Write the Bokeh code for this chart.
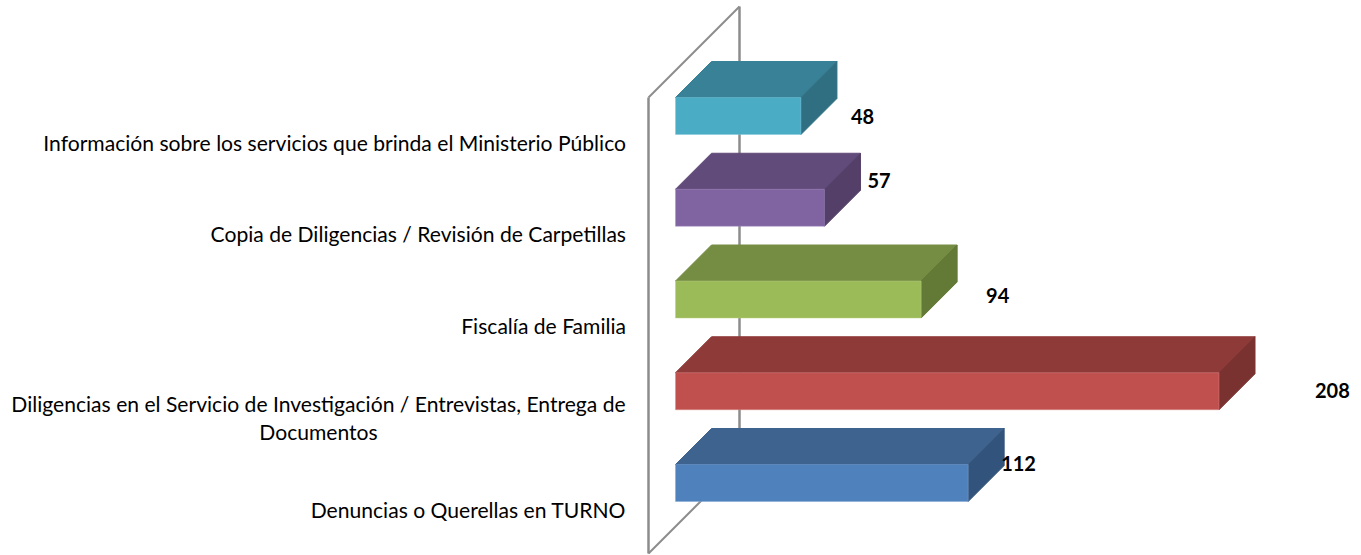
from bokeh.plotting import figure
from bokeh.embed import file_html
from bokeh.resources import INLINE
from bokeh.core.properties import value as fixed

# Data, listed from the bottom row upward
categories = [
    "Denuncias o Querellas en TURNO",
    "Diligencias en el Servicio de Investigación / Entrevistas, Entrega de\nDocumentos",
    "Fiscalía de Familia",
    "Copia de Diligencias / Revisión de Carpetillas",
    "Información sobre los servicios que brinda el Ministerio Público",
]
values = [112, 208, 94, 57, 48]

# Styles
front_colors = ["#4f81bd", "#c0504d", "#9bbb59", "#8064a2", "#4bacc6"]
top_colors = ["#3e638f", "#8e3a38", "#758d42", "#614b7a", "#388197"]
side_colors = ["#32537b", "#7a3230", "#637a37", "#533f68", "#2f6f81"]
edge_colors = ["#7ea3d3", "#d98886", "#b5cf82", "#a48dc0", "#7cc6da"]

PX_X = 2.613    # pixels per value unit
PX_Y = 91.75    # pixels per category step
W, H = 1361, 555
X0, Y0 = 675.0, 482.5   # frame pixel of value 0 and of the first row

DEPTH_X = 36 / PX_X
DEPTH_Y = 36 / PX_Y
HALF = 18.5 / PX_Y

p = figure(width=W, height=H, output_backend="svg", toolbar_location=None,
           x_range=(-X0 / PX_X, (W - X0) / PX_X),
           y_range=((Y0 - H) / PX_Y, Y0 / PX_Y),
           min_border=0, outline_line_color=None)
p.axis.visible = False
p.grid.visible = False

# Wall of the 3D plot
WALL_L, WALL_R = -27 / PX_X, 64 / PX_X
WALL_TOP_FRONT, WALL_TOP_BACK = 385.5 / PX_Y, 476.5 / PX_Y
WALL_BOTTOM_FRONT, WALL_BOTTOM_BACK = -70.5 / PX_Y, 20.5 / PX_Y
p.line([WALL_L, WALL_L], [WALL_BOTTOM_FRONT, WALL_TOP_FRONT], line_color="#8c8c8c", line_width=2.5)
p.line([WALL_L, WALL_R], [WALL_TOP_FRONT, WALL_TOP_BACK], line_color="#8c8c8c", line_width=2)
p.line([WALL_R, WALL_R], [WALL_BOTTOM_BACK, WALL_TOP_BACK], line_color="#8c8c8c", line_width=2.5)
p.line([WALL_L, WALL_R], [WALL_BOTTOM_FRONT, WALL_BOTTOM_BACK], line_color="#8c8c8c", line_width=2)

# Bars
for i, v in enumerate(values):
    top, bot = i + HALF, i - HALF
    p.patch([0, v, v + DEPTH_X, DEPTH_X], [top, top, top + DEPTH_Y, top + DEPTH_Y],
            fill_color=top_colors[i], line_color=top_colors[i], line_width=1)
    p.patch([v, v + DEPTH_X, v + DEPTH_X, v], [bot, bot + DEPTH_Y, top + DEPTH_Y, top],
            fill_color=side_colors[i], line_color=side_colors[i], line_width=1)
    p.quad(left=[0], right=[v], bottom=[bot], top=[top],
           fill_color=front_colors[i], line_color=edge_colors[i], line_alpha=0.45, line_width=1)

# Value labels, each with its own offset as in the reference
label_dx = [-3, 60, 29, 7, 14]
label_dy = [-20, -0.5, -4.5, -27, 0]
for i, v in enumerate(values):
    p.text([v + DEPTH_X + label_dx[i] / PX_X], [i], text=[str(v)], y_offset=label_dy[i],
           text_font=fixed("Lato"), text_font_size="20px", text_font_style="bold",
           text_color="#000000", text_align="left", text_baseline="middle")

# Category labels
LABEL_RIGHT = -49.5 / PX_X
LABEL_CENTER = -357 / PX_X
LABEL_DY = 26
for i, c in enumerate(categories):
    lines = c.split("\n")
    if len(lines) == 1:
        p.text([LABEL_RIGHT], [i], text=[c], y_offset=LABEL_DY,
               text_font=fixed("Lato"), text_font_size="21.1px", text_color="#000000",
               text_align="right", text_baseline="middle")
    else:
        for k, line in enumerate(lines):
            p.text([LABEL_CENTER], [i], text=[line], y_offset=LABEL_DY + (k - 0.5) * 28,
                   text_font=fixed("Lato"), text_font_size="21.1px", text_color="#000000",
                   text_align="center", text_baseline="middle")

open("out.html", "w").write(file_html(p, INLINE))
